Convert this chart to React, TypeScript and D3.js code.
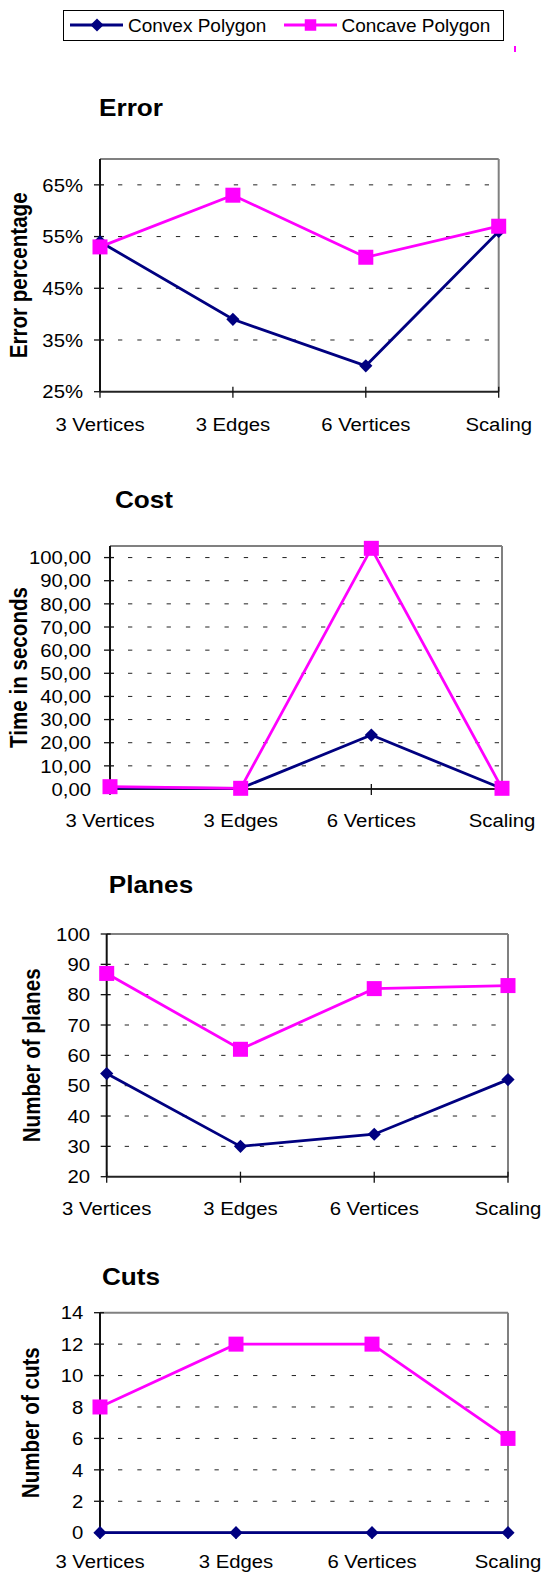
import React from "react";
import * as d3 from "d3";

const categories = ["3 Vertices", "3 Edges", "6 Vertices", "Scaling"];
const seriesNames = ["Convex Polygon", "Concave Polygon"];

const errorConvex = [54, 39, 30, 56];
const errorConcave = [53, 63, 51, 57];
const errorTicks = [25, 35, 45, 55, 65];

const costConvex = [0.5, 0.3, 23.3, 0.2];
const costConcave = [1.0, 0.3, 104, 0.3];
const costTicks = [0, 10, 20, 30, 40, 50, 60, 70, 80, 90, 100];

const planesConvex = [54, 30, 34, 52];
const planesConcave = [87, 62, 82, 83];
const planesTicks = [20, 30, 40, 50, 60, 70, 80, 90, 100];

const cutsConvex = [0, 0, 0, 0];
const cutsConcave = [8, 12, 12, 6];
const cutsTicks = [0, 2, 4, 6, 8, 10, 12, 14];

const NAVY = "#000080";
const MAGENTA = "#FF00FF";
const FONT = "'Liberation Sans', Arial, Helvetica, sans-serif";

type ChartCfg = {
  title: string;
  yTitle: string;
  convex: number[];
  concave: number[];
  ticks: number[];
  domain: [number, number];
  fmt: (v: number) => string;
  x0: number;
  x1: number;
  yTop: number;
  yBot: number;
  titleX: number;
  titleY: number;
  yTitleX: number;
  labelGap: number;
  xLabelGap: number;
};

const pct = (v: number) => `${v}%`;
const comma2 = (v: number) => d3.format(".2f")(v).replace(".", ",");
const plain = (v: number) => `${v}`;

const charts: ChartCfg[] = [
  {
    title: "Error", yTitle: "Error percentage", convex: errorConvex, concave: errorConcave,
    ticks: errorTicks, domain: [25, 70], fmt: pct,
    x0: 100, x1: 498.7, yTop: 159, yBot: 391.7, titleX: 131, titleY: 116, yTitleX: 27, labelGap: 17, xLabelGap: 39,
  },
  {
    title: "Cost", yTitle: "Time in seconds", convex: costConvex, concave: costConcave,
    ticks: costTicks, domain: [0, 105], fmt: comma2,
    x0: 110, x1: 502, yTop: 546, yBot: 789, titleX: 144, titleY: 508, yTitleX: 27, labelGap: 19, xLabelGap: 38,
  },
  {
    title: "Planes", yTitle: "Number of planes", convex: planesConvex, concave: planesConcave,
    ticks: planesTicks, domain: [20, 100], fmt: plain,
    x0: 106.7, x1: 508, yTop: 934, yBot: 1176.7, titleX: 151, titleY: 893, yTitleX: 40, labelGap: 16.7, xLabelGap: 38.5,
  },
  {
    title: "Cuts", yTitle: "Number of cuts", convex: cutsConvex, concave: cutsConcave,
    ticks: cutsTicks, domain: [0, 14], fmt: plain,
    x0: 100, x1: 508, yTop: 1312.7, yBot: 1532.7, titleX: 131, titleY: 1285, yTitleX: 38.5, labelGap: 16.7, xLabelGap: 35,
  },
];

const SX = 1.07;
const LABEL_SIZE = 19;

function Diamond({ x, y, r }: { x: number; y: number; r: number }) {
  return <path d={`M${x},${y - r}L${x + r},${y}L${x},${y + r}L${x - r},${y}Z`} fill={NAVY} />;
}
function Square({ x, y, s }: { x: number; y: number; s: number }) {
  return <rect x={x - s / 2} y={y - s / 2} width={s} height={s} fill={MAGENTA} />;
}

function Chart({ c }: { c: ChartCfg }) {
  const x = d3.scalePoint<string>().domain(categories).range([c.x0, c.x1]);
  const y = d3.scaleLinear().domain(c.domain).range([c.yBot, c.yTop]);
  const line = d3
    .line<number>()
    .x((_, i) => x(categories[i]) as number)
    .y((d) => y(d));
  const grid = c.ticks.filter((t) => t > c.domain[0] && y(t) > c.yTop + 1);
  const cy = (c.yTop + c.yBot) / 2;
  return (
    <g>
      <text
        transform={`translate(${c.titleX},${c.titleY}) scale(1.06,1)`}
        textAnchor="middle"
        fontFamily={FONT}
        fontWeight="bold"
        fontSize={24.7}
      >
        {c.title}
      </text>
      <text
        transform={`translate(${c.yTitleX},${cy}) scale(1.12,1) rotate(-90)`}
        textAnchor="middle"
        fontFamily={FONT}
        fontWeight="bold"
        fontSize={20.6}
      >
        {c.yTitle}
      </text>
      {grid.map((t) => (
        <line
          key={"g" + t}
          x1={c.x0 + 18}
          x2={c.x1}
          y1={y(t)}
          y2={y(t)}
          stroke="#222"
          strokeWidth={1}
          strokeDasharray="4.3 15"
        />
      ))}
      <line x1={c.x0} x2={c.x1} y1={c.yTop} y2={c.yTop} stroke="#808080" strokeWidth={2} />
      <line x1={c.x1} x2={c.x1} y1={c.yTop} y2={c.yBot} stroke="#808080" strokeWidth={2} />
      <line x1={c.x0} x2={c.x0} y1={c.yTop} y2={c.yBot} stroke="#111" strokeWidth={2} />
      <line x1={c.x0} x2={c.x1} y1={c.yBot} y2={c.yBot} stroke="#222" strokeWidth={2} />
      {c.ticks.map((t) => (
        <g key={"t" + t}>
          <line x1={c.x0 - 6} x2={t === c.domain[0] ? c.x0 : c.x0 + 4} y1={y(t)} y2={y(t)} stroke="#111" strokeWidth={1.3} />
          <text
            transform={`translate(${c.x0 - c.labelGap},${y(t)}) scale(${SX},1)`}
            textAnchor="end"
            dominantBaseline="central"
            fontFamily={FONT}
            fontSize={LABEL_SIZE}
          >
            {c.fmt(t)}
          </text>
        </g>
      ))}
      {categories.map((cat) => (
        <g key={cat}>
          <line x1={x(cat)} x2={x(cat)} y1={c.yBot - 5} y2={c.yBot + 6} stroke="#111" strokeWidth={1.3} />
          <text
            transform={`translate(${x(cat)},${c.yBot + c.xLabelGap}) scale(${SX},1)`}
            textAnchor="middle"
            fontFamily={FONT}
            fontSize={LABEL_SIZE}
          >
            {cat}
          </text>
        </g>
      ))}
      <path d={line(c.convex) || ""} fill="none" stroke={NAVY} strokeWidth={2.8} />
      {c.convex.map((v, i) => (
        <Diamond key={"d" + i} x={x(categories[i]) as number} y={y(v)} r={6.6} />
      ))}
      <path d={line(c.concave) || ""} fill="none" stroke={MAGENTA} strokeWidth={2.8} />
      {c.concave.map((v, i) => (
        <Square key={"s" + i} x={x(categories[i]) as number} y={y(v)} s={15} />
      ))}
    </g>
  );
}

export default function App() {
  return (
    <div style={{ position: "absolute", left: 0, top: 0 }}>
      <svg width={544} height={1573} style={{ display: "block", background: "#fff" }}>
        <rect x={0} y={0} width={544} height={1573} fill="#fff" />
        <rect x={63.5} y={10.5} width={440} height={30} fill="#fff" stroke="#000" strokeWidth={1} />
        <line x1={70} x2={123} y1={25} y2={25} stroke={NAVY} strokeWidth={3} />
        <Diamond x={97} y={25} r={6.6} />
        <text x={128} y={31.5} fontFamily={FONT} fontSize={19}>
          {seriesNames[0]}
        </text>
        <line x1={284} x2={337} y1={25} y2={25} stroke={MAGENTA} strokeWidth={3} />
        <Square x={310.5} y={25} s={11.5} />
        <text x={341.5} y={31.5} fontFamily={FONT} fontSize={19}>
          {seriesNames[1]}
        </text>
        <rect x={514} y={46} width={2} height={6} fill={MAGENTA} />
        {charts.map((c) => (
          <Chart key={c.title} c={c} />
        ))}
      </svg>
    </div>
  );
}
